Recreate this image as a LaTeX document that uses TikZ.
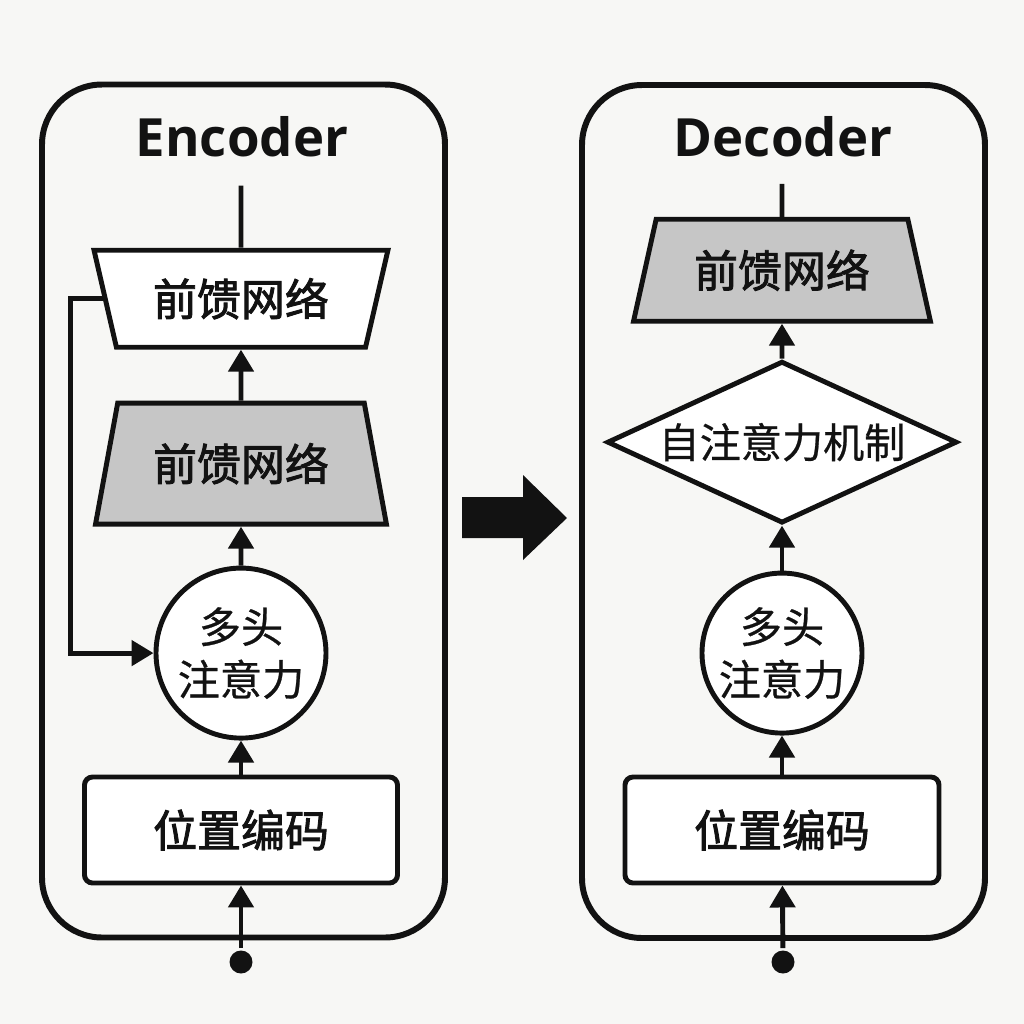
\documentclass[tikz,border=0pt]{standalone}
\usepackage{fontspec}
\setmainfont{Open Sans}
\newfontfamily\cjk{Noto Sans CJK SC}[FakeBold=0.6]
\newfontfamily\cjkb{Noto Sans CJK SC}[FakeBold=2]
\usetikzlibrary{arrows.meta, positioning, shapes.geometric}
\definecolor{paper}{HTML}{F7F7F5}
\definecolor{ink}{HTML}{121212}
\definecolor{shade}{HTML}{C6C6C6}

\begin{document}
\begin{tikzpicture}[
  color=ink, line width=1.4pt,
  frame/.style={draw, line width=1.7pt, rounded corners=6mm,
                minimum width=4.03cm, minimum height=8.53cm},
  head/.style={font=\fontsize{15pt}{18pt}\selectfont\bfseries},
  box/.style={draw, fill=white, rounded corners=0.8mm, minimum width=3.13cm,
              minimum height=1.06cm, font=\cjkb\fontsize{12.5pt}{15pt}\selectfont},
  ffn/.style={draw, trapezium, trapezium stretches=true, trapezium angle=69,
              inner sep=0pt, font=\cjkb\fontsize{12.5pt}{15pt}\selectfont},
  mha/.style={draw, circle, fill=white, inner sep=0pt, align=center,
              font=\cjk\fontsize{12pt}{15pt}\selectfont},
  attn/.style={draw, diamond, fill=white, aspect=2.16, inner sep=0pt,
               minimum width=3.5cm, minimum height=1.62cm,
               font=\cjk\fontsize{11.7pt}{14pt}\selectfont},
  dot/.style={circle, fill, inner sep=0pt, minimum size=2.3mm},
  a/.style={-{Triangle[length=2.2mm,width=2.5mm]}}]
  \fill[paper] (0,0) rectangle (10.24,-10.24);
  \useasboundingbox (0,0) rectangle (10.24,-10.24);

  % encoder
  \node[frame] (encbox) at (2.435,-5.11) {};
  \node[head] (enc) at (2.42,-1.37) {Encoder};
  \node[box] (encpe) at (2.41,-8.30) {位置编码};
  \node[mha, minimum size=1.7cm, above=3.4mm of encpe] (encmha) {多头\\注意力};
  \node[ffn, fill=shade, minimum width=2.92cm, minimum height=1.21cm,
        above=3.9mm of encmha] (encffa) {前馈网络};
  \node[ffn, fill=white, shape border rotate=180, minimum width=2.95cm,
        minimum height=0.97cm, above=5.1mm of encffa] (encffb) {前馈网络};
  \coordinate[above=6.2mm of encffb] (encout);
  \node[dot] (encin) at (2.41,-9.62) {};
  \draw[a] (encin) -- (encpe);
  \draw[a] (encpe) -- (encmha);
  \draw[a] (encmha) -- (encffa);
  \draw[a] (encffa) -- (encffb);
  \draw (encffb) -- (encout);
  \draw[a] (encffb.west) -- ++(-0.32,0) |- (encmha.west);

  % passing to the decoder
  \fill (4.62,-4.97) -- (5.23,-4.97) -- (5.23,-4.75) -- (5.67,-5.18)
        -- (5.23,-5.60) -- (5.23,-5.38) -- (4.62,-5.38) -- cycle;

  % decoder
  \node[frame] (decbox) at (7.835,-5.115) {};
  \node[head] (dec) at (7.83,-1.37) {Decoder};
  \node[box, minimum width=3.14cm] (decpe) at (7.82,-8.30) {位置编码};
  \node[mha, minimum size=1.6cm, above=3.9mm of decpe] (decmha) {多头\\注意力};
  \node[attn, above=4.5mm of decmha] (decattn) {自注意力机制};
  \node[ffn, fill=shade, minimum width=2.98cm, minimum height=1.02cm,
        above=3.5mm of decattn] (decffn) {前馈网络};
  \coordinate[above=3.3mm of decffn] (decout);
  \node[dot] (decin) at (7.83,-9.62) {};
  \draw[a] (decin) -- (decpe);
  \draw[a] (decpe) -- (decmha);
  \draw[a] (decmha) -- (decattn);
  \draw[a] (decattn) -- (decffn);
  \draw (decffn) -- (decout);
\end{tikzpicture}
\end{document}
